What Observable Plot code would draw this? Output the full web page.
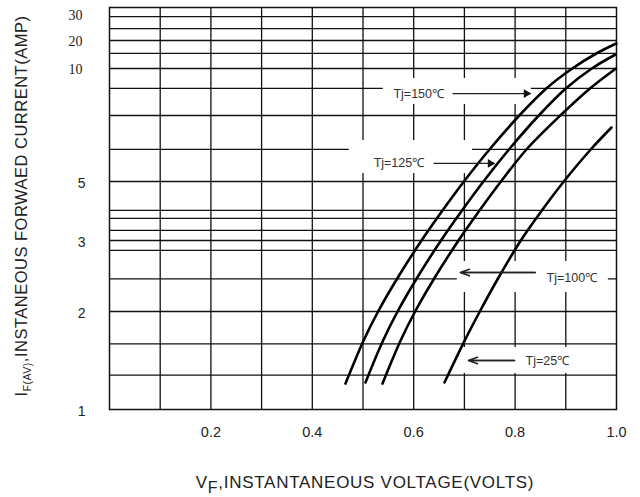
<!DOCTYPE html>
<html><head><meta charset="utf-8">
<script src="https://cdn.jsdelivr.net/npm/d3@7"></script>
<script src="https://cdn.jsdelivr.net/npm/@observablehq/plot@0.6"></script>
<style>body{margin:0;background:#fff;}</style>
</head><body><div id="chart"></div>
<script>
// Forward voltage (V) vs forward current (A)
const tj150 = [[0.4655,1.265],[0.5012,1.704],[0.5298,2.0],[0.5675,2.465],[0.6154,3.0],[0.6568,4.017],[0.7006,5.044],[0.7511,6.46],[0.8083,7.92],[0.8615,9.115],[0.9128,10],[0.9602,15.36],[0.9996,18.93]];
const tj125 = [[0.5049,1.276],[0.5396,1.704],[0.5682,2.0],[0.6059,2.465],[0.6538,3.0],[0.6953,4.017],[0.7391,5.044],[0.7895,6.46],[0.8467,7.92],[0.9000,9.115],[0.9513,10],[0.9982,15.0]];
const tj100 = [[0.5385,1.265],[0.5742,1.704],[0.6028,2.0],[0.6404,2.465],[0.6884,3.0],[0.7298,4.017],[0.7736,5.044],[0.8241,6.46],[0.8892,7.92],[0.9477,9.115],[0.9990,10]];
const tj25 = [[0.6607,1.276],[0.6976,1.673],[0.7304,2.0],[0.7663,2.465],[0.8112,3.0],[0.8527,4.017],[0.8961,5.0],[0.9491,6.416],[0.9901,7.389]];
const seriesNames = ["Tj=150℃","Tj=125℃","Tj=100℃","Tj=25℃"];

const xTicks = [0.2, 0.4, 0.6, 0.8, 1.0];
const yTicksSerif = [30, 20, 10];
const yTicksSans = [5, 3, 2, 1];
const gridX = [0.1,0.2,0.3,0.4,0.5,0.6,0.7,0.8,0.9];
const gridY = [1.35,1.67,2,2.46,2.86,3,3.34,3.75,4.02,5,6.42,7.92,9.12,10,15.4,20,24.6,29.2];

// label annotations (data units)
const labelX = [0.560, 0.521, 0.862, 0.8205];
const labelY = [8.89, 5.80, 2.465, 1.5];
const arrowX1 = [0.6765, 0.639, 0.840, 0.799];
const arrowX2 = [0.830, 0.759, 0.692, 0.708];
const arrowY = [8.89, 5.80, 2.549, 1.5];
const maskX1 = [0.540, 0.473, 0.686, 0.696];
const maskX2 = [0.832, 0.716, 0.984, 0.929];
const maskY1 = [8.41, 5.35, 2.268, 1.367];
const maskY2 = [9.56, 6.81, 2.704, 1.633];

const curves = [tj150, tj125, tj100, tj25].flatMap((s, i) => s.map(([v, a]) => ({v, a, name: seriesNames[i]})));
const labels = seriesNames.map((name, i) => ({name, x: labelX[i], y: labelY[i], x1: arrowX1[i], x2: arrowX2[i], ay: arrowY[i], mx1: maskX1[i], mx2: maskX2[i], my1: maskY1[i], my2: maskY2[i], filled: i < 2}));

const sans = "Liberation Sans, Arial, sans-serif";
const ink = "#222";

const chart = Plot.plot({
  width: 640, height: 497,
  marginLeft: 109, marginRight: 24, marginTop: 7, marginBottom: 88,
  style: {fontFamily: sans, background: "#fff"},
  x: {domain: [0, 1]},
  y: {type: "linear", domain: [1, 2, 3, 5, 10, 20, 30], range: [409, 311, 240, 181, 68, 40, 14]},
  marks: [
    Plot.ruleX(gridX, {stroke: "#111", strokeWidth: 1.3}),
    Plot.ruleY(gridY, {stroke: "#111", strokeWidth: 1.3}),
    Plot.rect(labels, {x1: "mx1", x2: "mx2", y1: "my1", y2: "my2", fill: "white"}),
    Plot.frame({stroke: "#111", strokeWidth: 1.5}),
    Plot.line(curves, {x: "v", y: "a", z: "name", stroke: "#000", strokeWidth: 2.6, curve: "catmull-rom"}),
    Plot.link(labels, {x1: "x1", x2: "x2", y1: "ay", y2: "ay", stroke: "#222", strokeWidth: 1.3}),
    Plot.dot(labels.filter(d => d.filled), {x: "x2", y: "ay", symbol: "triangle", r: 3.2, rotate: 90, fill: "#111", dx: -4}),
    Plot.arrow(labels.filter(d => !d.filled), {x1: "x1", x2: "x2", y1: "ay", y2: "ay", stroke: "#222", strokeWidth: 1.6, headLength: 9, headAngle: 40}),
    Plot.text(labels, {x: "x", y: "y", text: "name", textAnchor: "start", fontSize: 12.5, fill: "#333"}),
    Plot.axisX(xTicks, {tickSize: 0, tickPadding: 17, tickFormat: d3.format(".1f"), fontSize: 14.5, fill: ink, label: null}),
    Plot.axisY(yTicksSerif, {tickSize: 0, tickPadding: 27, fontSize: 14, fontFamily: "Liberation Serif, Times New Roman, serif", fill: ink, dy: 1, label: null}),
    Plot.axisY(yTicksSans, {tickSize: 0, tickPadding: 24, fontSize: 14, fill: ink, dy: 2, label: null})
  ]
});

const svg = d3.select(chart);
const xt = svg.append("text")
  .attr("x", 365).attr("y", 488)
  .attr("text-anchor", "middle")
  .attr("font-family", sans).attr("font-size", 17).attr("letter-spacing", 0.72).attr("fill", ink);
xt.append("tspan").text("V");
xt.append("tspan").attr("dy", 5).attr("font-size", 16).text("F");
xt.append("tspan").attr("dy", -5).text(",INSTANTANEOUS VOLTAGE(VOLTS)");

const yt = svg.append("text")
  .attr("transform", "translate(27,206) rotate(-90)")
  .attr("text-anchor", "middle")
  .attr("font-family", sans).attr("font-size", 16.5).attr("letter-spacing", 0.5).attr("fill", ink);
yt.append("tspan").text("I");
yt.append("tspan").attr("dy", 4).attr("font-size", 10.5).text("F(AV)");
yt.append("tspan").attr("dy", -4).text(",INSTANEOUS FORWAED CURRENT(AMP)");

document.getElementById("chart").append(chart);
</script>
</body></html>
